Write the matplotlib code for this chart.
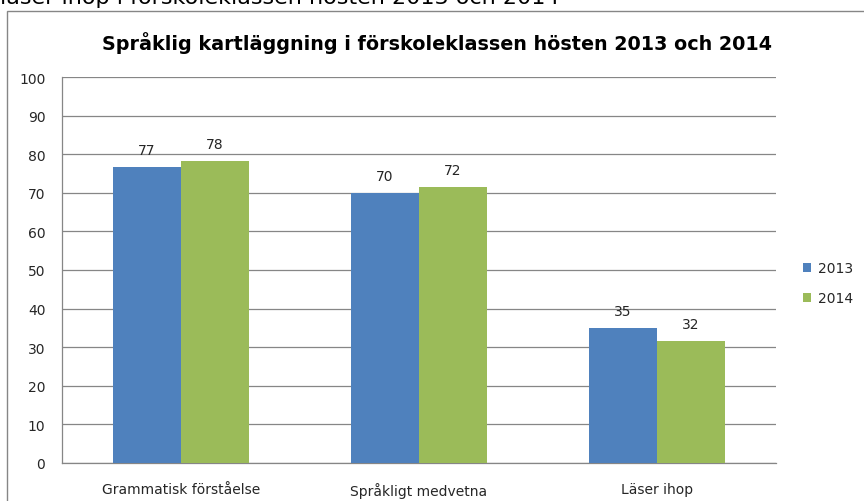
import matplotlib.pyplot as plt
from matplotlib.patches import Rectangle
import numpy as np

categories = ["Grammatisk förståelse", "Språkligt medvetna", "Läser ihop"]
values_2013 = [76.7, 70.0, 35.0]
values_2014 = [78.3, 71.6, 31.6]
series_names = ["2013", "2014"]
y_ticks = [0, 10, 20, 30, 40, 50, 60, 70, 80, 90, 100]

blue = "#4F81BD"
green = "#9BBB59"
grid_col = "#868686"
text_col = "#262626"

fig = plt.figure(figsize=(8.64, 5.02), dpi=100)
ax = fig.add_axes([62 / 864, 1 - 464 / 502, 714 / 864, 386 / 502])

x = np.arange(len(categories))
w = 1 / 3.5
b1 = ax.bar(x - w / 2, values_2013, w, color=blue, label=series_names[0], zorder=3)
b2 = ax.bar(x + w / 2, values_2014, w, color=green, label=series_names[1], zorder=3)

for bars, vals in [(b1, values_2013), (b2, values_2014)]:
    for rect, v in zip(bars, vals):
        ax.text(rect.get_x() + rect.get_width() / 2, v + 2.6, f"{v:.0f}",
                ha="center", va="bottom", fontsize=10, color=text_col)

ax.set_xlim(-0.5, len(categories) - 0.5)
ax.set_ylim(0, 100)
ax.set_yticks(y_ticks)
ax.set_xticks(x)
ax.set_xticklabels(categories)
ax.yaxis.grid(True, color=grid_col, linewidth=0.9, zorder=0)
ax.tick_params(axis="y", length=0, pad=12, labelsize=10, labelcolor=text_col)
ax.tick_params(axis="x", length=0, pad=14, labelsize=10, labelcolor=text_col)
for s in ["top", "right"]:
    ax.spines[s].set_visible(False)
for s in ["left", "bottom"]:
    ax.spines[s].set_color(grid_col)
    ax.spines[s].set_linewidth(0.9)

leg = fig.legend(handles=[b1, b2], labels=series_names, loc="center left",
                 bbox_to_anchor=(790 / 864, 1 - 284 / 502), frameon=False,
                 fontsize=10, handlelength=0.6, handleheight=0.6,
                 handletextpad=0.5, labelspacing=1.15)
for t in leg.get_texts():
    t.set_color(text_col)

fig.text(437 / 864, 1 - 43 / 502,
         "Språklig kartläggning i förskoleklassen hösten 2013 och 2014",
         ha="center", va="center", fontsize=13.8, fontweight="bold",
         color="black")

# text of the page above the chart, cut off at the top as in the source
fig.text(0, 1 - 4 / 502, "läser ihop i förskoleklassen hösten 2013 och 2014",
         ha="left", va="baseline", fontsize=16, color="black")

fig.patches.append(Rectangle((7 / 864, -0.1), 1.0, 1 - 12 / 502 + 0.1,
                             transform=fig.transFigure, fill=False,
                             edgecolor=grid_col, linewidth=1.0))

fig.savefig("out.png", dpi=100)
